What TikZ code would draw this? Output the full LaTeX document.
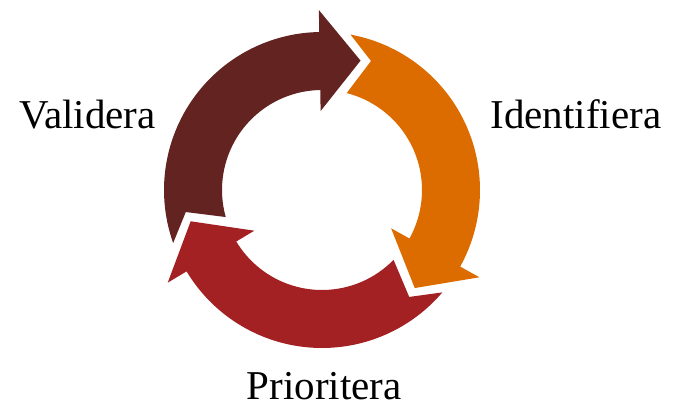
\documentclass[tikz,border=0pt]{standalone}
\usepackage{fontspec}
\setmainfont{Liberation Serif}
\usepackage{tikz}
\definecolor{validcol}{RGB}{99,35,33}
\definecolor{identcol}{RGB}{221,108,0}
\definecolor{priocol}{RGB}{163,32,35}
\tikzstyle{label} = [anchor=base, font=\fontsize{41}{48}\selectfont, inner sep=0pt]

\begin{document}
\begin{tikzpicture}[x=1pt, y=1pt]
	\useasboundingbox (-322, -214) rectangle (352, 190);
	% cycle arrows: head base angle / colour
	\foreach \b/\col in {91/validcol, -29/identcol, 211/priocol} {
		\fill [\col] ({\b+108.6}:158) arc [start angle={\b+108.6}, end angle=\b, radius=158]
			-- (\b:180) -- ({\b-17.6}:135) -- (\b:79) -- (\b:100)
			arc [start angle=\b, end angle={\b+104.7}, radius=100]
			-- ({\b+98.2}:138) -- cycle;
	}
	\node [style=label] (validera) at (-234.5, 61.7) {Validera};
	\node [style=label] (identifiera) at (253.8, 61.7) {Identifiera};
	\node [style=label] (prioritera) at (2.2, -209.5) {Prioritera};
\end{tikzpicture}
\end{document}
